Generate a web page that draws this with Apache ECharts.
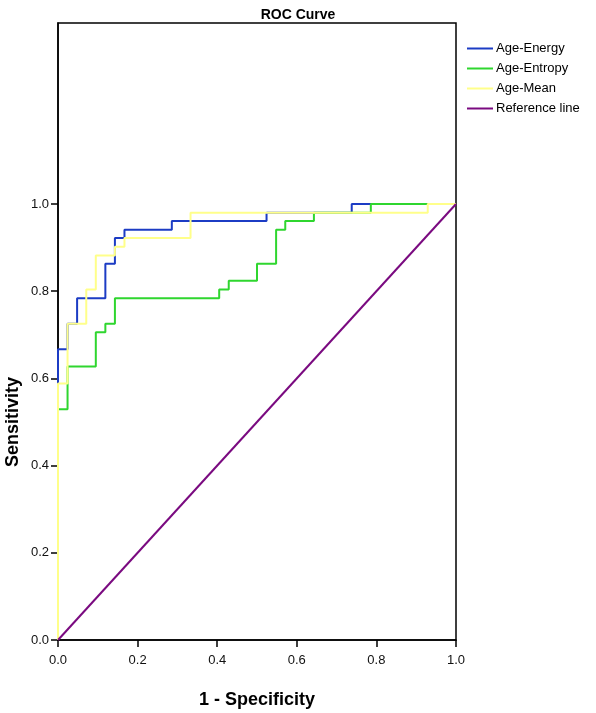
<!DOCTYPE html>
<html>
<head>
<meta charset="utf-8">
<script src="https://cdn.jsdelivr.net/npm/echarts@6/dist/echarts.min.js"></script>
<style>
html,body{margin:0;padding:0;background:#fff;}
#chart{width:596px;height:713px;}
</style>
</head>
<body>
<div id="chart"></div>
<script>
// ---- data ----
const seriesNames = ["Age-Energy", "Age-Entropy", "Age-Mean", "Reference line"];
const tickValues = [0, 0.2, 0.4, 0.6, 0.8, 1.0];

const energyX = [0, 0, 0.024, 0.024, 0.048, 0.048, 0.119, 0.119, 0.143, 0.143, 0.167, 0.167, 0.286, 0.286, 0.524, 0.524, 0.738, 0.738, 1.0];
const energyY = [0, 0.667, 0.667, 0.725, 0.725, 0.784, 0.784, 0.863, 0.863, 0.922, 0.922, 0.941, 0.941, 0.961, 0.961, 0.980, 0.980, 1.0, 1.0];

const entropyX = [0, 0, 0.024, 0.024, 0.095, 0.095, 0.119, 0.119, 0.143, 0.143, 0.405, 0.405, 0.429, 0.429, 0.5, 0.5, 0.548, 0.548, 0.571, 0.571, 0.643, 0.643, 0.786, 0.786, 1.0];
const entropyY = [0, 0.529, 0.529, 0.627, 0.627, 0.706, 0.706, 0.725, 0.725, 0.784, 0.784, 0.804, 0.804, 0.824, 0.824, 0.863, 0.863, 0.941, 0.941, 0.961, 0.961, 0.980, 0.980, 1.0, 1.0];

const meanX = [0, 0, 0.024, 0.024, 0.071, 0.071, 0.095, 0.095, 0.143, 0.143, 0.167, 0.167, 0.333, 0.333, 0.929, 0.929, 1.0];
const meanY = [0, 0.588, 0.588, 0.725, 0.725, 0.804, 0.804, 0.882, 0.882, 0.902, 0.902, 0.922, 0.922, 0.980, 0.980, 1.0, 1.0];

const refX = [0, 1];
const refY = [0, 1];

const colors = ["#1c3cc4", "#2fd62f", "#ffff8a", "#7a0a80"];

function pairs(xs, ys) { return xs.map((x, i) => [x, ys[i]]); }

const chart = echarts.init(document.getElementById('chart'), null, {renderer: 'canvas'});

const gridLeft = 58, gridTop = 23, gridRight = 140, gridBottom = 73;
const yMax = 1.415;

const lineSeries = [
  [energyX, energyY], [entropyX, entropyY], [meanX, meanY], [refX, refY]
].map((d, i) => ({
  name: seriesNames[i],
  type: 'line',
  data: pairs(d[0], d[1]),
  showSymbol: false,
  symbol: 'none',
  lineStyle: {color: colors[i], width: 2},
  itemStyle: {color: colors[i]},
  animation: false,
  z: 2
}));

chart.setOption({
  animation: false,
  title: {
    text: 'ROC Curve',
    left: 'center',
    top: 3,
    textStyle: {fontFamily: 'Liberation Sans Narrow, Liberation Sans, Arial', fontWeight: 'bold', fontSize: 14, color: '#000'}
  },
  legend: {
    orient: 'vertical',
    left: 462,
    top: 37,
    itemWidth: 26,
    itemHeight: 2,
    itemGap: 7,
    icon: 'rect',
    textStyle: {fontFamily: 'Liberation Sans, Arial', fontSize: 13, color: '#000', padding: [0, 0, 0, -2]},
    data: seriesNames
  },
  grid: {
    left: gridLeft, top: gridTop, right: gridRight, bottom: gridBottom,
    show: true, borderColor: '#000', borderWidth: 1.5, backgroundColor: '#fff'
  },
  xAxis: {
    type: 'value', min: 0, max: 1, interval: 0.2,
    splitLine: {show: false},
    axisLine: {show: true, onZero: false, lineStyle: {color: '#000', width: 1.5}},
    axisTick: {show: true, length: 7, lineStyle: {color: '#000', width: 1.5}},
    axisLabel: {formatter: v => v.toFixed(1), fontFamily: 'Liberation Sans, Arial', fontSize: 13, color: '#111', margin: 14}
  },
  yAxis: {
    type: 'value', min: 0, max: yMax,
    splitLine: {show: false},
    axisLine: {show: true, onZero: false, lineStyle: {color: '#000', width: 1.5}},
    axisTick: {show: true, length: 7, lineStyle: {color: '#000', width: 1.5}, customValues: tickValues},
    axisLabel: {customValues: tickValues, formatter: v => v.toFixed(1), fontFamily: 'Liberation Sans, Arial', fontSize: 13, color: '#111', margin: 9}
  },
  graphic: [],
  series: lineSeries
});

// axis titles, centred on the 0..1 data range (as in the reference)
function placeTitles() {
  const p0 = chart.convertToPixel({gridIndex: 0}, [0, 0]);
  const p1 = chart.convertToPixel({gridIndex: 0}, [1, 1]);
  chart.setOption({
    graphic: [
      {type: 'text', x: (p0[0] + p1[0]) / 2, y: 700,
       style: {text: '1 - Specificity', font: 'bold 18px "Liberation Sans", Arial', fill: '#000', textAlign: 'center', textVerticalAlign: 'middle'}},
      {type: 'text', x: 13, y: (p0[1] + p1[1]) / 2, rotation: Math.PI / 2,
       style: {text: 'Sensitivity', font: 'bold 18px "Liberation Sans", Arial', fill: '#000', textAlign: 'center', textVerticalAlign: 'middle'}}
    ]
  });
}
placeTitles();
</script>
</body>
</html>
